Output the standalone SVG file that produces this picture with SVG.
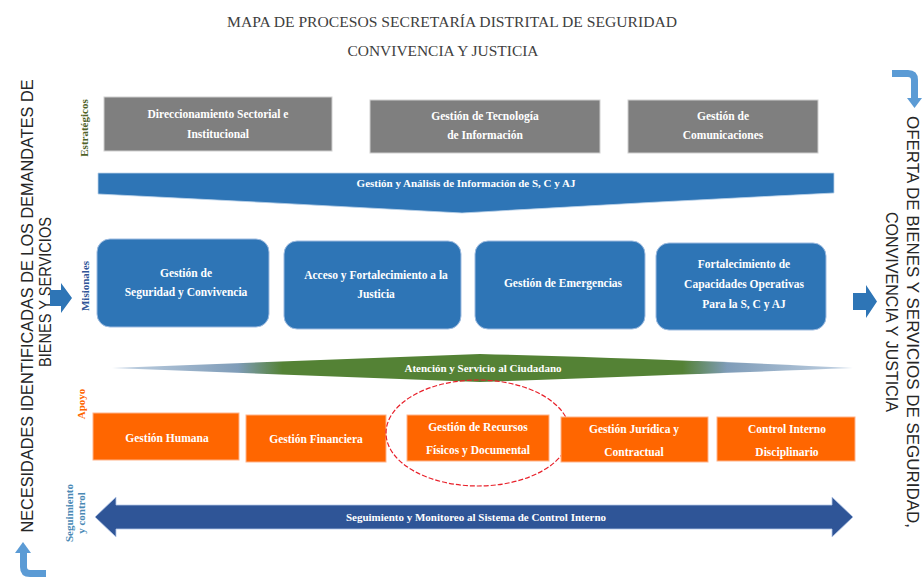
<svg xmlns="http://www.w3.org/2000/svg" width="922" height="580" viewBox="0 0 922 580">
  <defs>
    <style>
      .title { font-family: "Liberation Serif", "Times New Roman", serif; font-size: 14.5px; fill: #404040; text-anchor: middle; }
      .side { font-family: "Liberation Sans", Arial, sans-serif; font-size: 16.5px; fill: #262626; text-anchor: middle; }
      .lbl { font-family: "Liberation Serif", "Times New Roman", serif; font-size: 11px; font-weight: bold; text-anchor: middle; }
      .nt { font-family: "Liberation Serif", "Times New Roman", serif; font-size: 11.5px; font-weight: bold; fill: #ffffff; text-anchor: middle; }
      .bt { font-family: "Liberation Serif", "Times New Roman", serif; font-size: 11px; font-weight: bold; fill: #ffffff; text-anchor: middle; }
      .gray { fill: #7f7f7f; stroke: #d0d0d0; stroke-width: 1; }
      .mis { fill: #2e75b6; stroke: #9dbbe0; stroke-width: 1; }
      .sup { fill: #ff6600; stroke: #ffb38a; stroke-width: 1; }
      .blk { fill: #2e75b6; }
      .bent { fill: none; stroke: #5b9bd5; stroke-width: 7; stroke-linejoin: round; }
      .bentHead { fill: #5b9bd5; }
    </style>
    <linearGradient id="greenFade" x1="112" y1="0" x2="853" y2="0" gradientUnits="userSpaceOnUse">
      <stop offset="0" stop-color="#c3d3e4"/>
      <stop offset="0.17" stop-color="#7f9cb8"/>
      <stop offset="0.23" stop-color="#548235"/>
      <stop offset="0.77" stop-color="#548235"/>
      <stop offset="0.83" stop-color="#7f9cb8"/>
      <stop offset="1" stop-color="#c3d3e4"/>
    </linearGradient>
  </defs>

  <rect x="0" y="0" width="922" height="580" fill="#ffffff"/>

  <!-- Title -->
  <g id="title">
    <text class="title" x="452" y="27" textLength="450" lengthAdjust="spacingAndGlyphs">MAPA DE PROCESOS SECRETARÍA DISTRITAL DE SEGURIDAD</text>
    <text class="title" x="443" y="56" textLength="191" lengthAdjust="spacingAndGlyphs">CONVIVENCIA Y JUSTICIA</text>
  </g>

  <!-- Side captions -->
  <g id="input-needs">
    <text class="side" transform="translate(33,306) rotate(-90)" x="0" y="0" textLength="453" lengthAdjust="spacingAndGlyphs">NECESIDADES IDENTIFICADAS DE LOS DEMANDATES DE</text>
    <text class="side" transform="translate(51,292) rotate(-90)" x="0" y="0" textLength="150" lengthAdjust="spacingAndGlyphs">BIENES Y SERVICIOS</text>
  </g>
  <g id="output-offer">
    <text class="side" transform="translate(907,322) rotate(90)" x="0" y="0" textLength="412" lengthAdjust="spacingAndGlyphs">OFERTA DE BIENES Y SERVICIOS  DE SEGURIDAD,</text>
    <text class="side" transform="translate(886,312) rotate(90)" x="0" y="0" textLength="200" lengthAdjust="spacingAndGlyphs">CONVIVENCIA Y JUSTICIA</text>
  </g>

  <!-- Row labels -->
  <g id="row-labels">
    <text class="lbl" fill="#4f6228" transform="translate(88,128) rotate(-90)">Estratégicos</text>
    <text class="lbl" fill="#2f5597" transform="translate(89,286) rotate(-90)">Misionales</text>
    <text class="lbl" fill="#ff6600" transform="translate(85,404) rotate(-90)">Apoyo</text>
    <text class="lbl" fill="#4a89b5" transform="translate(73,513) rotate(-90)">Seguimiento</text>
    <text class="lbl" fill="#4a89b5" transform="translate(85,513) rotate(-90)">y control</text>
  </g>

  <!-- Strategic processes -->
  <g id="direccionamiento">
    <rect class="gray" x="104" y="97" width="228" height="54"/>
    <text class="nt" x="218" y="118">Direccionamiento Sectorial e</text>
    <text class="nt" x="218" y="138">Institucional</text>
  </g>
  <g id="tecnologia">
    <rect class="gray" x="370" y="100" width="230" height="53"/>
    <text class="nt" x="485" y="120">Gestión de Tecnología</text>
    <text class="nt" x="485" y="139">de Información</text>
  </g>
  <g id="comunicaciones">
    <rect class="gray" x="628" y="100" width="190" height="53"/>
    <text class="nt" x="723" y="120">Gestión de</text>
    <text class="nt" x="723" y="139">Comunicaciones</text>
  </g>

  <!-- Information banner -->
  <g id="analisis-informacion">
    <path d="M98,173 H834 V193 Q650,202 462,213 Q280,203 98,194 Z" fill="#2e75b6" stroke="#bcd3ea" stroke-width="0.8"/>
    <text class="bt" x="466" y="187">Gestión y Análisis de Información de S, C y AJ</text>
  </g>

  <!-- Mission processes -->
  <g id="seguridad-convivencia">
    <rect class="mis" x="97" y="239" width="172" height="88" rx="13"/>
    <text class="nt" x="186" y="277">Gestión de</text>
    <text class="nt" x="186" y="296">Seguridad y Convivencia</text>
  </g>
  <g id="acceso-justicia">
    <rect class="mis" x="284" y="241" width="177" height="88" rx="13"/>
    <text class="nt" x="376" y="279">Acceso y Fortalecimiento a la</text>
    <text class="nt" x="376" y="298">Justicia</text>
  </g>
  <g id="emergencias">
    <rect class="mis" x="475" y="241" width="170" height="88" rx="13"/>
    <text class="nt" x="563" y="287">Gestión de Emergencias</text>
  </g>
  <g id="capacidades-operativas">
    <rect class="mis" x="656" y="243" width="170" height="87" rx="13"/>
    <text class="nt" x="744" y="268">Fortalecimiento de</text>
    <text class="nt" x="744" y="288">Capacidades Operativas</text>
    <text class="nt" x="744" y="308">Para la S, C y AJ</text>
  </g>

  <!-- Citizen service banner -->
  <g id="atencion-ciudadano">
    <path d="M112,368 L480,354 Q700,360 853,368 Q700,374 480,382 Z" fill="url(#greenFade)"/>
    <text class="bt" x="483" y="372">Atención y Servicio al Ciudadano</text>
  </g>

  <!-- Support processes -->
  <g id="gestion-humana">
    <rect class="sup" x="93" y="413" width="146" height="47"/>
    <text class="nt" x="167" y="442">Gestión Humana</text>
  </g>
  <g id="gestion-financiera">
    <rect class="sup" x="246" y="415" width="140" height="47"/>
    <text class="nt" x="316" y="443">Gestión Financiera</text>
  </g>
  <g id="recursos-fisicos">
    <rect class="sup" x="407" y="415" width="142" height="46"/>
    <text class="nt" x="478" y="431">Gestión de Recursos</text>
    <text class="nt" x="478" y="454">Físicos y  Documental</text>
    <ellipse cx="478" cy="433" rx="92" ry="53" fill="none" stroke="#e8202a" stroke-width="1.2" stroke-dasharray="5 2"/>
  </g>
  <g id="juridica-contractual">
    <rect class="sup" x="561" y="417" width="147" height="45"/>
    <text class="nt" x="634" y="433">Gestión  Jurídica y</text>
    <text class="nt" x="634" y="456">Contractual</text>
  </g>
  <g id="control-disciplinario">
    <rect class="sup" x="717" y="417" width="138" height="44"/>
    <text class="nt" x="787" y="433">Control Interno</text>
    <text class="nt" x="787" y="456">Disciplinario</text>
  </g>

  <!-- Monitoring double arrow -->
  <g id="seguimiento-monitoreo">
    <path d="M95,517 L116,497 V505 H832 V497 L853,517 L832,537 V529 H116 V537 Z" fill="#2f5597" stroke="#b4c7e7" stroke-width="0.8"/>
    <text class="bt" x="476" y="521">Seguimiento y Monitoreo al Sistema de Control Interno</text>
  </g>

  <!-- Flow arrows -->
  <g id="connectors">
    <path class="blk" d="M50,290 H61 V283 L72,298 L61,313 V306 H50 Z"/>
    <path class="blk" d="M853,293 H866 V285 L877,301.5 L866,318 V310 H853 Z"/>
    <path class="bent" d="M892,73.5 H908 Q914.5,73.5 914.5,80 V99"/>
    <polygon class="bentHead" points="907,98 922,98 914.5,108"/>
    <path class="bent" d="M46,573.5 H30 Q23.5,573.5 23.5,567 V552"/>
    <polygon class="bentHead" points="15,553 31,553 23,542"/>
  </g>
</svg>
